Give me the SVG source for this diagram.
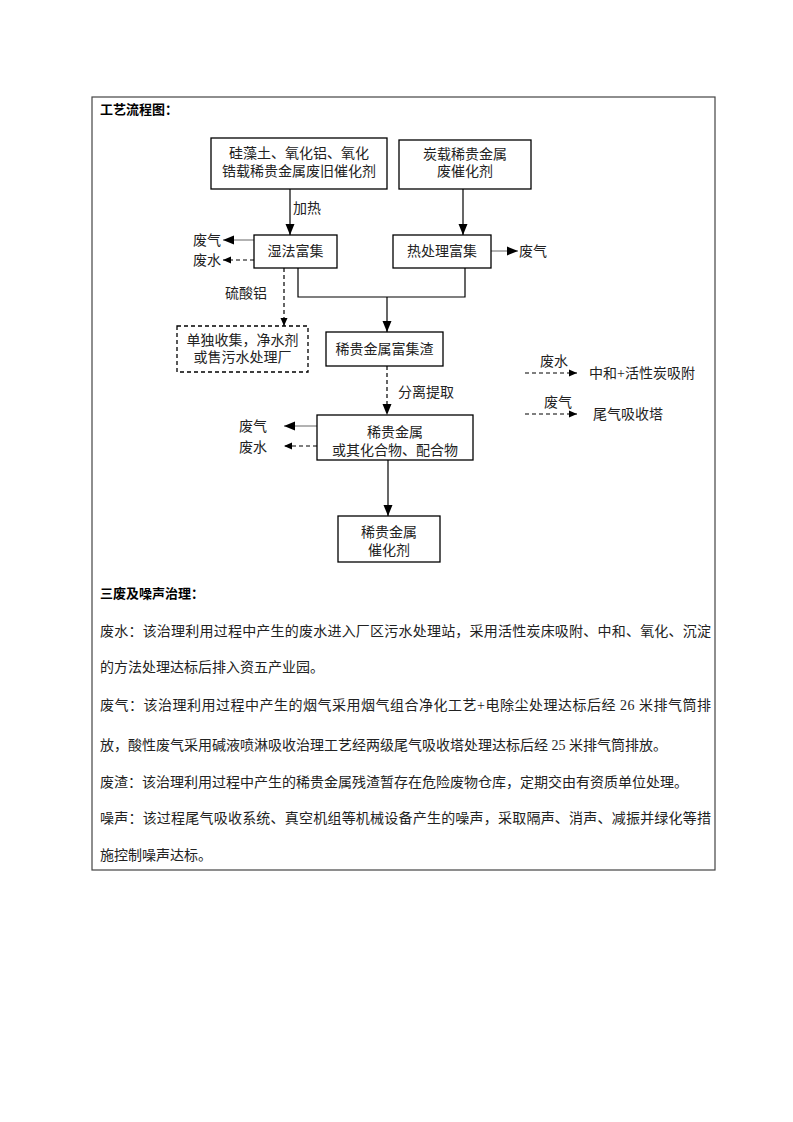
<svg xmlns="http://www.w3.org/2000/svg" width="793" height="1122" viewBox="0 0 793 1122">
<defs>
<style>
.t{font-family:"Liberation Serif","Noto Sans CJK SC",serif;font-size:14px;fill:#222;}
.c{text-anchor:middle;dominant-baseline:central;}
.l{dominant-baseline:central;}
.h{font-family:"Liberation Serif","Noto Sans CJK SC",serif;font-size:13px;font-weight:bold;fill:#000;dominant-baseline:central;}
.box{fill:#fff;stroke:#000;stroke-width:1.3;}
.dbox{fill:#fff;stroke:#000;stroke-width:1.3;stroke-dasharray:4 3;}
.ln{fill:none;stroke:#000;stroke-width:1.2;}
.gl{fill:none;stroke:#666;stroke-width:1;}
.dl{fill:none;stroke:#000;stroke-width:1.2;stroke-dasharray:4 3;}
</style>
<marker id="ah" markerUnits="userSpaceOnUse" markerWidth="12" markerHeight="10" refX="11" refY="5" orient="auto">
<path d="M0,0.5 L11,5 L0,9.5 z" fill="#000"/>
</marker>
<marker id="as" markerUnits="userSpaceOnUse" markerWidth="9" markerHeight="8" refX="8" refY="4" orient="auto">
<path d="M0,0.5 L8,4 L0,7.5 z" fill="#000"/>
</marker>
</defs>
<rect x="92" y="97" width="623" height="773" fill="none" stroke="#444" stroke-width="1.2"/>
<text class="h" x="100" y="109">工艺流程图：</text>

<g id="connectors">
<line class="ln" x1="290" y1="189" x2="290" y2="235" marker-end="url(#ah)"/>
<line class="ln" x1="463" y1="189" x2="463" y2="235" marker-end="url(#ah)"/>
<line class="gl" x1="254" y1="240" x2="223" y2="240" marker-end="url(#ah)"/>
<line class="dl" x1="254" y1="260" x2="223" y2="260" marker-end="url(#as)"/>
<line class="gl" x1="491" y1="251" x2="518" y2="251" marker-end="url(#ah)"/>
<line class="dl" x1="284" y1="268" x2="284" y2="326" marker-end="url(#as)"/>
<polyline class="ln" points="298,268 298,297 465,297 465,268"/>
<line class="ln" x1="387" y1="297" x2="387" y2="332" marker-end="url(#ah)"/>
<line class="dl" x1="387" y1="366" x2="387" y2="415" marker-end="url(#ah)"/>
<line class="gl" x1="317" y1="426" x2="284" y2="426" marker-end="url(#ah)"/>
<line class="dl" x1="317" y1="446" x2="284" y2="446" marker-end="url(#as)"/>
<line class="ln" x1="388" y1="460" x2="388" y2="516" marker-end="url(#ah)"/>
<line class="dl" x1="525" y1="373" x2="577" y2="373" marker-end="url(#as)"/>
<line class="dl" x1="525" y1="414" x2="577" y2="414" marker-end="url(#as)"/>
</g>

<g id="n1"><rect class="box" x="211" y="138" width="176" height="51"/>
<text class="t c" x="299" y="153">硅藻土、氧化铝、氧化</text>
<text class="t c" x="299" y="171">锆载稀贵金属废旧催化剂</text></g>
<g id="n2"><rect class="box" x="399" y="140" width="132" height="49"/>
<text class="t c" x="465" y="154">炭载稀贵金属</text>
<text class="t c" x="465" y="171">废催化剂</text></g>
<g id="n3"><rect class="box" x="254" y="235" width="83" height="33"/>
<text class="t c" x="295.5" y="251.5">湿法富集</text></g>
<g id="n4"><rect class="box" x="393" y="235" width="98" height="33"/>
<text class="t c" x="442" y="251.5">热处理富集</text></g>
<g id="n5"><rect class="dbox" x="177" y="326" width="131" height="46"/>
<text class="t c" x="242.5" y="340">单独收集，净水剂</text>
<text class="t c" x="242.5" y="357">或售污水处理厂</text></g>
<g id="n6"><rect class="box" x="326" y="332" width="117" height="34"/>
<text class="t c" x="384.5" y="349">稀贵金属富集渣</text></g>
<g id="n7"><rect class="box" x="317" y="415" width="156" height="45"/>
<text class="t c" x="395" y="432">稀贵金属</text>
<text class="t c" x="395" y="450">或其化合物、配合物</text></g>
<g id="n8"><rect class="box" x="338" y="516" width="102" height="46"/>
<text class="t c" x="389" y="532">稀贵金属</text>
<text class="t c" x="389" y="550">催化剂</text></g>

<g id="labels">
<text class="t l" x="293" y="208">加热</text>
<text class="t l" x="193" y="240">废气</text>
<text class="t l" x="193" y="260">废水</text>
<text class="t l" x="519" y="251">废气</text>
<text class="t l" x="225" y="293">硫酸铝</text>
<text class="t l" x="398" y="392">分离提取</text>
<text class="t l" x="239" y="426">废气</text>
<text class="t l" x="239" y="447">废水</text>
<text class="t l" x="540" y="361">废水</text>
<text class="t l" x="589" y="373">中和+活性炭吸附</text>
<text class="t l" x="544" y="402">废气</text>
<text class="t l" x="593" y="414">尾气吸收塔</text>
</g>

<text class="h" x="100" y="593">三废及噪声治理：</text>
<text class="t l" x="100" y="631" textLength="611" lengthAdjust="spacing">废水：该治理利用过程中产生的废水进入厂区污水处理站，采用活性炭床吸附、中和、氧化、沉淀</text>
<text class="t l" x="100" y="667">的方法处理达标后排入资五产业园。</text>
<text class="t l" x="100" y="705" textLength="611" lengthAdjust="spacing">废气：该治理利用过程中产生的烟气采用烟气组合净化工艺+电除尘处理达标后经 26 米排气筒排</text>
<text class="t l" x="100" y="745">放，酸性废气采用碱液喷淋吸收治理工艺经两级尾气吸收塔处理达标后经 25 米排气筒排放。</text>
<text class="t l" x="100" y="782">废渣：该治理利用过程中产生的稀贵金属残渣暂存在危险废物仓库，定期交由有资质单位处理。</text>
<text class="t l" x="100" y="818" textLength="611" lengthAdjust="spacing">噪声：该过程尾气吸收系统、真空机组等机械设备产生的噪声，采取隔声、消声、减振并绿化等措</text>
<text class="t l" x="100" y="855">施控制噪声达标。</text>
</svg>
